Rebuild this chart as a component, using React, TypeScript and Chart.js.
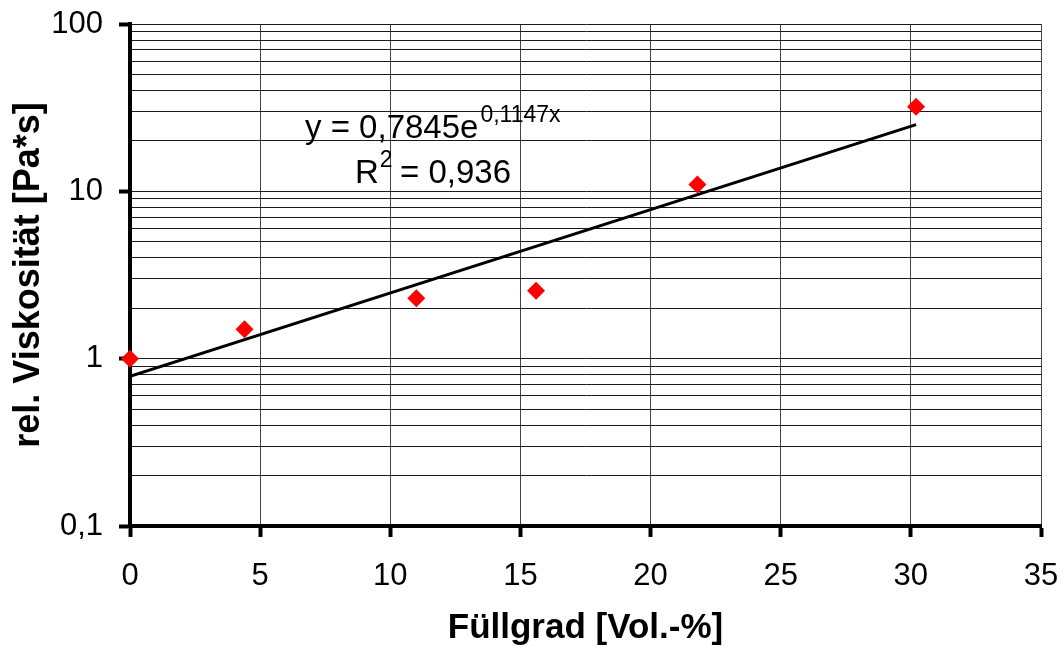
import React, { useEffect, useRef } from "react";
import { Chart, registerables } from "chart.js";

Chart.register(...registerables);

// Measured samples: filler content vs. relative viscosity
const fillContent = [0, 4.4, 11.0, 15.6, 21.8, 30.2];
const relViscosity = [1.0, 1.5, 2.3, 2.55, 11.0, 32.0];

// Exponential trendline y = A·e^(B·x), as stated in the label
const trendA = 0.7845;
const trendB = 0.1147;
const trendR2 = 0.936;
const trendRange = [0, 30.2];

// Axis definitions
const xTicks = [0, 5, 10, 15, 20, 25, 30, 35];
const yDecades = [0.1, 1, 10, 100];
const xTitle = "Füllgrad [Vol.-%]";
const yTitle = "rel. Viskosität [Pa*s]";

const FONT = "'Liberation Sans', Arial, Helvetica, sans-serif";
const deComma = (v: number) => String(v).replace(".", ",");

const isDecade = (v: number) =>
  yDecades.some((d) => Math.abs(v - d) / d < 1e-6);

// all log grid values 1..9 × 10^k between 0.1 and 100
const logGridValues = (): number[] => {
  const out: number[] = [];
  for (let e = -1; e <= 1; e++) {
    for (let m = 1; m <= 9; m++) out.push(+(m * Math.pow(10, e)).toPrecision(6));
  }
  out.push(100);
  return out;
};

const equationLabel = {
  id: "equationLabel",
  afterDatasetsDraw(chart: any) {
    const ctx = chart.ctx as CanvasRenderingContext2D;
    ctx.save();
    ctx.fillStyle = "#000";
    ctx.textBaseline = "alphabetic";
    ctx.textAlign = "left";

    const base1 = "y = " + deComma(trendA) + "e";
    ctx.font = `33px ${FONT}`;
    ctx.fillText(base1, 305, 138);
    const w1 = ctx.measureText(base1).width;
    ctx.font = `23px ${FONT}`;
    ctx.fillText(deComma(trendB) + "x", 305 + w1 + 2, 122);

    ctx.font = `33px ${FONT}`;
    ctx.fillText("R", 355, 183);
    const wR = ctx.measureText("R").width;
    ctx.font = `23px ${FONT}`;
    ctx.fillText("2", 355 + wR + 1, 167);
    ctx.font = `33px ${FONT}`;
    ctx.fillText(" = " + deComma(trendR2), 355 + wR + 12, 183);
    ctx.restore();
  },
};

export default function App() {
  const ref = useRef<HTMLCanvasElement | null>(null);

  useEffect(() => {
    document.body.style.margin = "0";
    const canvas = ref.current;
    if (!canvas) return;

    const trendPoints = trendRange.map((x) => ({
      x,
      y: trendA * Math.exp(trendB * x),
    }));

    const chart = new Chart(canvas, {
      type: "scatter",
      data: {
        datasets: [
          {
            label: "Messwerte",
            data: fillContent.map((x, i) => ({ x, y: relViscosity[i] })),
            pointStyle: "rectRot",
            pointRadius: 9,
            pointBorderWidth: 0,
            backgroundColor: "#ff0000",
            borderColor: "#ff0000",
            showLine: false,
            clip: false,
          } as any,
          {
            label: "Exp. Trend",
            type: "line",
            data: trendPoints,
            borderColor: "#000",
            borderWidth: 3,
            pointRadius: 0,
            fill: false,
          } as any,
        ],
      },
      options: {
        responsive: false,
        animation: false,
        events: [],
        layout: { padding: { top: 24, right: 23, left: 0, bottom: 0 } },
        plugins: {
          legend: { display: false },
          tooltip: { enabled: false },
        },
        scales: {
          x: {
            type: "linear",
            min: 0,
            max: 35,
            afterFit: (s: any) => {
              s.height = 120;
              s.paddingLeft = 0;
              s.paddingRight = 0;
            },
            afterBuildTicks: (s: any) => {
              s.ticks = xTicks.map((v) => ({ value: v }));
            },
            ticks: {
              autoSkip: false,
              maxRotation: 0,
              padding: 21,
              color: "#000",
              font: { family: FONT, size: 31 },
              callback: (v: any) => String(v),
            },
            grid: {
              color: "#444",
              lineWidth: 1,
              tickLength: 11,
              tickWidth: 4,
              tickColor: "#000",
            },
            border: { display: true, width: 4, color: "#000" },
            title: {
              display: true,
              text: xTitle,
              color: "#000",
              font: { family: FONT, size: 35, weight: "bold", lineHeight: 1 },
              padding: { top: 0, bottom: 0 },
            },
          },
          y: {
            type: "logarithmic",
            min: 0.1,
            max: 100,
            afterFit: (s: any) => {
              s.width = 130;
              s.paddingTop = 0;
              s.paddingBottom = 0;
            },
            afterBuildTicks: (s: any) => {
              s.ticks = logGridValues().map((v) => ({ value: v, major: isDecade(v) }));
            },
            ticks: {
              autoSkip: false,
              padding: 16,
              color: "#000",
              font: { family: FONT, size: 31 },
              callback: (v: any) => (isDecade(Number(v)) ? deComma(Number(v)) : ""),
            },
            grid: {
              color: "#1a1a1a",
              lineWidth: 1,
              tickLength: 11,
              tickWidth: 4,
              tickColor: (c: any) =>
                c.tick && isDecade(c.tick.value) ? "#000" : "rgba(0,0,0,0)",
            },
            border: { display: true, width: 4, color: "#000" },
            title: {
              display: true,
              text: yTitle,
              color: "#000",
              font: { family: FONT, size: 36, weight: "bold", lineHeight: 1.2 },
              padding: { top: 7, bottom: 0 },
            },
          },
        },
      },
      plugins: [equationLabel],
    });

    return () => chart.destroy();
  }, []);

  return (
    <div style={{ position: "fixed", left: 0, top: 0, width: 1064, height: 646, background: "#fff" }}>
      <canvas ref={ref} width={1064} height={646} />
    </div>
  );
}
